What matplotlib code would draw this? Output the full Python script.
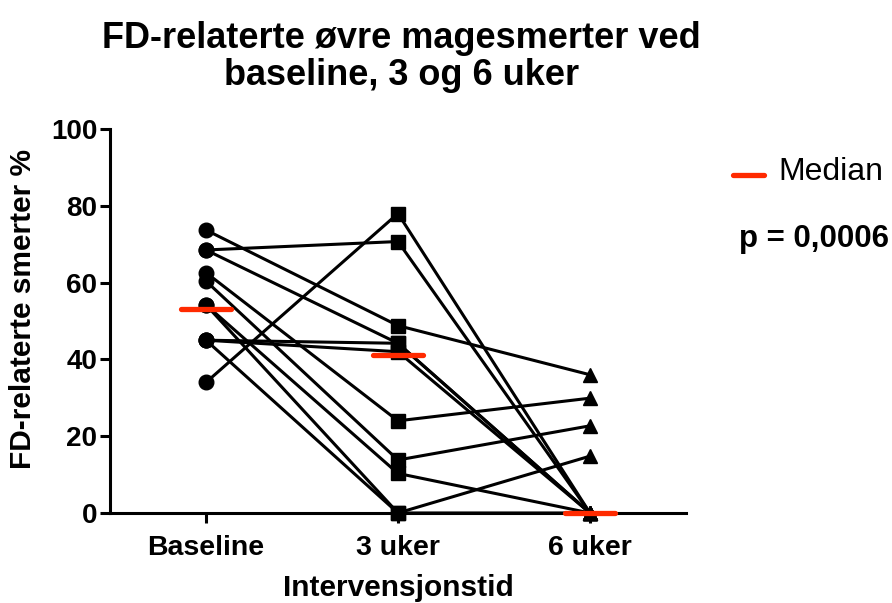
import matplotlib.pyplot as plt
import numpy as np

plt.rcParams["font.family"] = ["Liberation Sans", "DejaVu Sans"]

# Timepoints and per-subject values (FD-related upper abdominal pain, %)
timepoints = ["Baseline", "3 uker", "6 uker"]
baseline = [73.7, 68.5, 68.5, 62.6, 60.4, 54.2, 54.2, 45.0, 45.0, 45.0, 34.0]
uker3 = [48.8, 70.7, 44.2, 24.0, 13.8, 10.3, 0.0, 44.2, 42.0, 0.0, 78.0]
uker6 = [36.0, 0.0, 0.0, 29.9, 22.7, 0.0, 14.8, 0.0, 0.0, 0.0, 0.0]
medians = [53.1, 41.1, 0.0]
markers = ["o", "s", "^"]
yticks = [0, 20, 40, 60, 80, 100]

fig = plt.figure(figsize=(8.92, 6.03), dpi=100)
ax = fig.add_axes([0.1233, 0.1493, 0.6457, 0.6367])

x = np.arange(len(timepoints))
data = np.array([baseline, uker3, uker6])

# subject lines
for j in range(data.shape[1]):
    ax.plot(x, data[:, j], color="black", lw=2.2, zorder=2, clip_on=False)

# markers per timepoint
for i, m in enumerate(markers):
    ax.plot(np.full(data.shape[1], x[i]), data[i], ls="none", marker=m,
            color="black", ms=10.5 if m != "^" else 10, zorder=3, clip_on=False)

# median bars
for i, med in enumerate(medians):
    ax.plot([x[i] - 0.13, x[i] + 0.13], [med, med], color="#ff2a00", lw=3.8,
            solid_capstyle="round", zorder=4, clip_on=False)

ax.set_xlim(-0.5, 2.5)
ax.set_ylim(0, 100)
ax.set_yticks(yticks)
ax.set_xticks(x)
ax.set_xticklabels(timepoints, fontsize=20.5, fontweight="bold")
ax.set_yticklabels([str(t) for t in yticks], fontsize=20, fontweight="bold")
for s in ["top", "right"]:
    ax.spines[s].set_visible(False)
for s in ["left", "bottom"]:
    ax.spines[s].set_linewidth(2.2)
ax.tick_params(width=2.2, length=7, pad=2)
ax.tick_params(axis="x", pad=9)

ax.set_xlabel("Intervensjonstid", fontsize=21.5, fontweight="bold", labelpad=9)
ax.set_ylabel("FD-relaterte smerter %", fontsize=21.5, fontweight="bold")
ax.yaxis.set_label_coords(-0.126, 0.53)

fig.text(0.45, 0.966, "FD-relaterte øvre magesmerter ved\nbaseline, 3 og 6 uker",
         ha="center", va="top", fontsize=26, fontweight="bold", linespacing=1.08)

# legend and p-value
fig.add_artist(plt.Line2D([0.822, 0.857], [0.71, 0.71], color="#ff2a00", lw=3.8,
                          solid_capstyle="round"))
fig.text(0.873, 0.714, "Median", fontsize=23, va="center")
fig.text(0.828, 0.603, "p = 0,0006", fontsize=22.5, fontweight="bold", va="center")

fig.savefig("out.png", dpi=100)
